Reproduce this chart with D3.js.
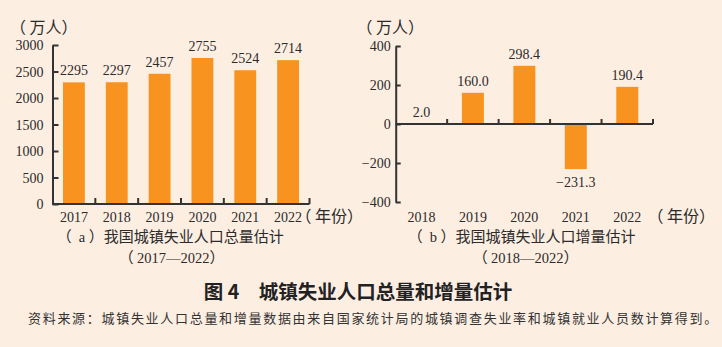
<!DOCTYPE html>
<html>
<head>
<meta charset="utf-8">
<script src="https://cdn.jsdelivr.net/npm/d3@7"></script>
<style>
  html, body { margin: 0; padding: 0; background: #FDEEE2; }
  svg { display: block; }
  .num { font-family: "Liberation Serif", "Times New Roman", serif; font-size: 14px; fill: #2b2b2b; }
  .cjk { font-family: "Noto Sans CJK SC", sans-serif; fill: #2b2b2b; }
</style>
</head>
<body>
<svg id="chart" width="722" height="347"></svg>
<script>
// ---- data ----
const yearsTotal = ["2017", "2018", "2019", "2020", "2021", "2022"];
const valuesTotal = [2295, 2297, 2457, 2755, 2524, 2714];
const labelsTotal = ["2295", "2297", "2457", "2755", "2524", "2714"];
const ticksTotal = [0, 500, 1000, 1500, 2000, 2500, 3000];

const yearsInc = ["2018", "2019", "2020", "2021", "2022"];
const valuesInc = [2.0, 160.0, 298.4, -231.3, 190.4];
const labelsInc = ["2.0", "160.0", "298.4", "\u2212231.3", "190.4"];
const ticksInc = [-400, -200, 0, 200, 400];

const unitLabel = "（万人）";
const yearLabel = "（年份）";
const captionA = ["（ a ）我国城镇失业人口总量估计", "（2017—2022）"];
const captionB = ["（ b ）我国城镇失业人口增量估计", "（2018—2022）"];
const figTitle = "图 4\u3000城镇失业人口总量和增量估计";
const sourceNote = "资料来源：城镇失业人口总量和增量数据由来自国家统计局的城镇调查失业率和城镇就业人员数计算得到。";

const BAR = "#F7931E";
const AX = "#333333";

const svg = d3.select("#chart");
svg.append("rect").attr("width", 722).attr("height", 347).attr("fill", "#FDEEE2");

// one text element; full-width parentheses placed on a fixed em grid via tspans
function richText(g, str, x, y, cjkSize, latSize) {
  const kindOf = c => c === "（" ? "open" : c === "）" ? "close"
    : (c.charCodeAt(0) >= 0x2E80 ? "cjk" : "lat");
  const runs = [];
  for (const c of str) {
    const k = kindOf(c);
    const last = runs[runs.length - 1];
    if (last && last.k === k && (k === "cjk" || k === "lat")) last.t += c;
    else runs.push({ k, t: c });
  }
  const sh = cjkSize * 0.22;
  const text = g.append("text").attr("y", y).style("white-space", "pre");
  let cx = x;
  for (const r of runs) {
    const ts = text.append("tspan").attr("y", y)
      .attr("class", r.k === "lat" ? "num" : "cjk")
      .style("font-size", (r.k === "lat" ? latSize : cjkSize) + "px")
      .text(r.t);
    if (r.k === "open") {
      ts.attr("text-anchor", "end").attr("x", cx + cjkSize - sh);
      cx += cjkSize;
    } else if (r.k === "close") {
      ts.attr("text-anchor", "start").attr("x", cx);
      cx += cjkSize;
    } else {
      ts.attr("text-anchor", "start").attr("x", cx);
      cx += ts.node().getComputedTextLength();
    }
  }
}

function panel(cfg) {
  const g = svg.append("g");
  const x = d3.scaleBand().domain(cfg.years).range([cfg.x0, cfg.x1])
    .paddingInner(cfg.pi).paddingOuter(cfg.pi / 2);
  const y = d3.scaleLinear().domain(cfg.ydom).range([cfg.yb, cfg.yt]);

  // bars
  g.selectAll("rect.bar").data(cfg.values).join("rect")
    .attr("class", "bar")
    .attr("x", (d, i) => x(cfg.years[i]))
    .attr("width", x.bandwidth())
    .attr("y", d => Math.min(y(d), y(0)))
    .attr("height", d => Math.abs(y(d) - y(0)))
    .attr("fill", BAR);

  // value labels
  g.selectAll("text.val").data(cfg.values).join("text")
    .attr("class", "num val")
    .attr("text-anchor", "middle")
    .attr("x", (d, i) => x(cfg.years[i]) + x.bandwidth() / 2)
    .attr("y", d => d >= 0 ? y(d) - 7 : y(d) + 18)
    .text((d, i) => cfg.labels[i]);

  // y axis
  const yAxis = d3.axisLeft(y).tickValues(cfg.ticks)
    .tickSizeInner(-cfg.tick).tickSizeOuter(0).tickPadding(cfg.pad)
    .tickFormat(d3.format("d"));
  const ya = g.append("g").attr("transform", `translate(${cfg.x0},0)`).call(yAxis);
  ya.select(".domain").attr("stroke", AX).attr("stroke-width", 2);
  ya.selectAll(".tick line").attr("stroke", AX).attr("stroke-width", 2);
  ya.selectAll(".tick text").attr("class", "num").attr("fill", "#2b2b2b")
    .style("font-size", "14px").attr("dy", "0.34em");
  ya.attr("font-family", null).attr("font-size", null);

  // x axis line at zero with boundary ticks
  const y0 = y(0);
  g.append("line").attr("x1", cfg.x0).attr("x2", cfg.x1).attr("y1", y0).attr("y2", y0)
    .attr("stroke", AX).attr("stroke-width", 2);
  const step = x.step();
  const bounds = cfg.years.map(d => x(d) - step * cfg.pi / 2 + step);
  g.selectAll("line.xt").data(bounds).join("line")
    .attr("x1", d => d).attr("x2", d => d).attr("y1", y0).attr("y2", y0 - cfg.tick)
    .attr("stroke", AX).attr("stroke-width", 2);

  // x labels
  const xa = g.append("g").attr("transform", `translate(0,${cfg.xlab})`)
    .call(d3.axisBottom(x).tickSize(0).tickPadding(0));
  xa.select(".domain").remove();
  xa.selectAll(".tick text").attr("class", "num").attr("fill", "#2b2b2b")
    .style("font-size", "14px").attr("dy", 0).attr("y", 0);
  xa.attr("font-family", null).attr("font-size", null);

  // unit labels
  richText(g, unitLabel, cfg.unitX, 33, 16, 14);
  richText(g, yearLabel, cfg.yearX, 222, 16, 14);

  // captions
  richText(g, cfg.caption[0], cfg.capX, 242, 15, 14.5);
  richText(g, cfg.caption[1], cfg.capX2, 263, 15, 14.5);
}

panel({
  years: yearsTotal, values: valuesTotal, labels: labelsTotal, ticks: ticksTotal,
  ydom: [0, 3000], x0: 52.5, x1: 309.5, yb: 204, yt: 45, pi: 0.49,
  tick: 6, pad: 9, xlab: 222, unitX: 13.5, yearX: 299,
  caption: captionA, capX: 60, capX2: 122
});

panel({
  years: yearsInc, values: valuesInc, labels: labelsInc, ticks: ticksInc,
  ydom: [-400, 400], x0: 395.7, x1: 653, yb: 202, yt: 46, pi: 0.573,
  tick: 5, pad: 5, xlab: 222, unitX: 360, yearX: 651,
  caption: captionB, capX: 411, capX2: 476
});

// title & source
svg.append("text").attr("x", 358).attr("y", 299).attr("text-anchor", "middle")
  .style("font-family", "'Noto Sans CJK SC', sans-serif").style("font-weight", "700")
  .style("font-size", "19.5px").attr("fill", "#222").text(figTitle);
svg.append("text").attr("x", 28).attr("y", 323)
  .style("font-family", "'Noto Sans CJK SC', sans-serif").style("font-size", "13px")
  .style("letter-spacing", "1.7px").attr("fill", "#333").text(sourceNote);
</script>
</body>
</html>
